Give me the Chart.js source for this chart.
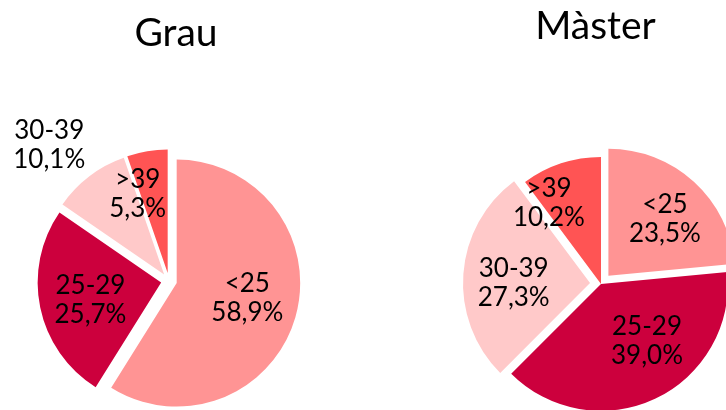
<!DOCTYPE html>
<html>
<head>
<meta charset="utf-8">
<script src="https://cdn.jsdelivr.net/npm/chart.js@4/dist/chart.umd.min.js"></script>
<style>
  html, body { margin: 0; padding: 0; width: 726px; height: 410px; overflow: hidden; background: #fff; }
  canvas { position: absolute; top: 0; }
  #grau { left: 7px; }
  #master { left: 450px; }
</style>
</head>
<body>
<canvas id="grau" width="338" height="505"></canvas>
<canvas id="master" width="291" height="518"></canvas>
<script>
// ---- data ----
const categories = ['<25', '25-29', '30-39', '>39'];
const grauValues = [58.9, 25.7, 10.1, 5.3];
const masterValues = [23.5, 39.0, 27.3, 10.2];
const chartTitles = ['Grau', 'Màster'];

// ---- style ----
const sliceColors = ['#FF9494', '#CC003D', '#FFC9C9', '#FF5454'];
const grauStyle = {
  radius: 123.5,
  titleTop: 10,
  pieShift: -7,
  explode: [8, 8, 8, 8],
  labelRadial: [0.583, 0.589, 1.408, 0.694],
  labelAngle: [-4.8, -1.9, -4.1, -10.9]
};
const masterStyle = {
  radius: 127,
  titleTop: 3,
  pieShift: 5.5,
  explode: [11, 0, 11, 0],
  labelRadial: [0.633, 0.571, 0.601, 0.764],
  labelAngle: [2.4, -14.2, -3.4, -14.1]
};
const labelFont = { family: 'Lato', size: 26, lineHeight: 29, color: '#000' };

function fmtPct(v) {
  return v.toFixed(1).replace('.', ',') + '%';
}

function makePieExtras(style) {
  return {
    id: 'pieExtras',
    afterDatasetUpdate(chart, args) {
      const meta = args.meta;
      meta.data.forEach((el, i) => {
        const d = style.explode[i] || 0;
        const mid = (el.startAngle + el.endAngle) / 2;
        el.x += Math.cos(mid) * d + style.pieShift;
        el.y += Math.sin(mid) * d;
      });
    },
    afterDatasetsDraw(chart) {
      const ctx = chart.ctx;
      const meta = chart.getDatasetMeta(0);
      const values = chart.data.datasets[0].data;
      const fs = labelFont.size, lh = labelFont.lineHeight;
      const cap = fs * 0.717;
      ctx.save();
      ctx.font = fs + 'px ' + labelFont.family;
      ctx.fillStyle = labelFont.color;
      ctx.textAlign = 'center';
      ctx.textBaseline = 'alphabetic';
      meta.data.forEach((el, i) => {
        const a = (el.startAngle + el.endAngle) / 2 + style.labelAngle[i] * Math.PI / 180;
        const rr = el.outerRadius * style.labelRadial[i];
        const cx = el.x + Math.cos(a) * rr;
        const cy = el.y + Math.sin(a) * rr;
        ctx.fillText(chart.data.labels[i], cx, cy - lh / 2 + cap / 2);
        ctx.fillText(fmtPct(values[i]), cx, cy + lh / 2 + cap / 2);
      });
      ctx.restore();
    }
  };
}

function makeChart(id, title, values, style) {
  return new Chart(document.getElementById(id), {
    type: 'pie',
    data: {
      labels: categories,
      datasets: [{
        data: values,
        backgroundColor: sliceColors,
        borderWidth: 0,
        hoverOffset: 0
      }]
    },
    options: {
      responsive: false,
      animation: false,
      events: [],
      radius: style.radius,
      layout: { padding: 0 },
      plugins: {
        legend: { display: false },
        tooltip: { enabled: false },
        title: {
          display: true,
          text: title,
          color: '#000',
          font: { family: 'Lato', size: 39, weight: 'normal', lineHeight: 1.2 },
          padding: { top: style.titleTop, bottom: 0 }
        }
      }
    },
    plugins: [makePieExtras(style)]
  });
}

makeChart('grau', chartTitles[0], grauValues, grauStyle);
makeChart('master', chartTitles[1], masterValues, masterStyle);
</script>
</body>
</html>
